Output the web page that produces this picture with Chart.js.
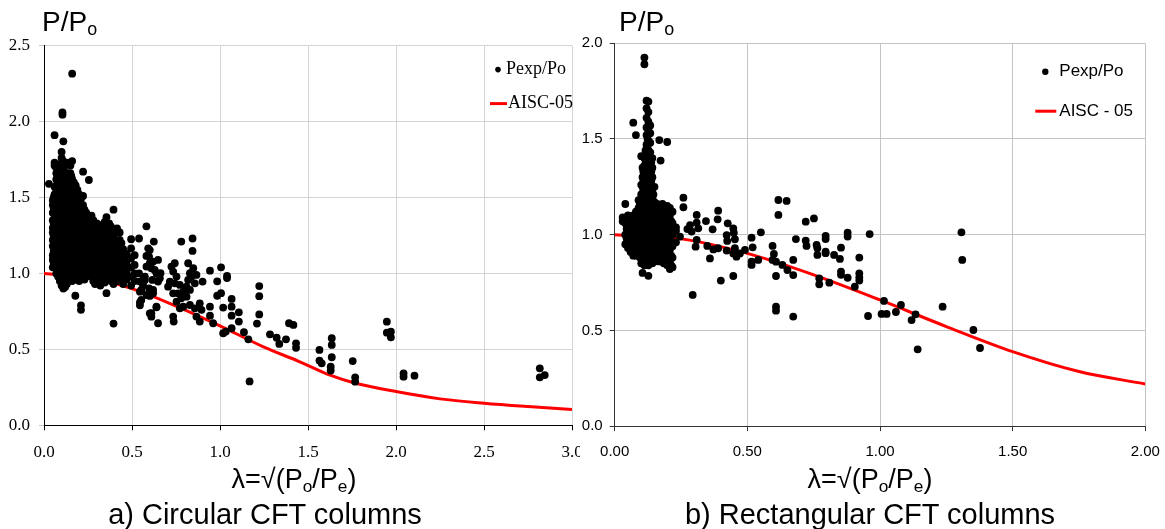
<!DOCTYPE html>
<html>
<head>
<meta charset="utf-8">
<script src="https://cdn.jsdelivr.net/npm/chart.js@4.4.1/dist/chart.umd.min.js"></script>
<style>
html, body { margin: 0; padding: 0; background: #fff; }
#wrap { position: relative; width: 1165px; height: 529px; overflow: hidden; font-family: "Liberation Sans", Arial, sans-serif; color: #000; }
canvas { position: absolute; top: 0; }
.lbl { position: absolute; white-space: nowrap; line-height: 1; }
.lbl sub { font-size: 0.64em; vertical-align: baseline; position: relative; top: 0.22em; }
</style>
</head>
<body>
<div id="wrap">
    <canvas id="circChart" width="580" height="470" style="left:0"></canvas>
    <canvas id="rectChart" width="585" height="470" style="left:580px"></canvas>

    <div class="lbl" style="left:42px; top:8px; font-size:28px">P/P<sub>o</sub></div>
    <div class="lbl" style="left:619px; top:8px; font-size:28px">P/P<sub>o</sub></div>

    <div class="lbl" style="left:194px; width:200px; text-align:center; top:466px; font-size:27px">λ=√(P<sub>o</sub>/P<sub>e</sub>)</div>
    <div class="lbl" style="left:770px; width:200px; text-align:center; top:466px; font-size:27px">λ=√(P<sub>o</sub>/P<sub>e</sub>)</div>

    <div class="lbl" style="left:65px; width:400px; text-align:center; top:500px; font-size:29px">a) Circular CFT columns</div>
    <div class="lbl" style="left:670px; width:400px; text-align:center; top:500px; font-size:29px">b) Rectangular CFT columns</div>
</div>

<script>
// --- a) circular CFT: test points, each entry is [lambda, [P/Po values at that lambda]]
const circCols = [
    [0.028, [1.59]],
    [0.05, [1.04, 1.09, 1.12, 1.18, 1.22, 1.27, 1.30, 1.35, 1.40, 1.45, 1.48]],
    [0.055, [1.07, 1.15, 1.25, 1.33, 1.43, 1.50]],
    [0.06, [1.05, 1.10, 1.15, 1.20, 1.25, 1.30, 1.36, 1.42, 1.47, 1.52, 1.57, 1.71, 1.73, 1.91]],
    [0.067, [1.70]],
    [0.07, [1.00, 1.06, 1.12, 1.17, 1.23, 1.28, 1.33, 1.39, 1.44, 1.50, 1.55, 1.62, 1.66]],
    [0.075, [1.03, 1.09, 1.15, 1.21, 1.26, 1.31, 1.36, 1.42, 1.47, 1.53, 1.59]],
    [0.08, [0.98, 1.03, 1.08, 1.14, 1.19, 1.25, 1.30, 1.36, 1.41, 1.46, 1.51, 1.57, 1.63, 1.69]],
    [0.09, [0.95, 1.00, 1.05, 1.10, 1.16, 1.21, 1.27, 1.32, 1.38, 1.43, 1.48, 1.54, 1.60, 1.66, 1.72]],
    [0.095, [0.97, 1.03, 1.08, 1.13, 1.19, 1.24, 1.30, 1.35, 1.41, 1.46, 1.51, 1.57, 1.63, 1.69]],
    [0.10, [0.92, 0.97, 1.02, 1.07, 1.13, 1.18, 1.24, 1.29, 1.35, 1.40, 1.45, 1.51, 1.57, 1.62, 1.68, 1.76, 1.80]],
    [0.105, [2.045, 2.06]],
    [0.11, [0.90, 0.95, 1.00, 1.05, 1.10, 1.15, 1.21, 1.26, 1.31, 1.37, 1.42, 1.48, 1.53, 1.59, 1.64, 1.70, 1.74, 1.87]],
    [0.115, [0.93, 0.98, 1.03, 1.08, 1.13, 1.18, 1.24, 1.29, 1.34, 1.39, 1.45, 1.50, 1.56, 1.61, 1.67]],
    [0.12, [0.91, 0.97, 1.02, 1.08, 1.13, 1.19, 1.24, 1.30, 1.35, 1.40, 1.46, 1.51, 1.56, 1.62, 1.67, 1.72]],
    [0.13, [0.93, 0.99, 1.04, 1.10, 1.16, 1.21, 1.27, 1.33, 1.38, 1.44, 1.49, 1.54, 1.60, 1.65]],
    [0.135, [0.96, 1.02, 1.07, 1.13, 1.19, 1.24, 1.30, 1.36, 1.41, 1.47, 1.52, 1.57, 1.62]],
    [0.14, [0.95, 1.00, 1.06, 1.12, 1.17, 1.23, 1.29, 1.34, 1.40, 1.46, 1.52, 1.58, 1.63, 1.73]],
    [0.15, [0.97, 1.03, 1.08, 1.14, 1.19, 1.25, 1.31, 1.36, 1.42, 1.48, 1.53, 1.59, 1.66, 1.71]],
    [0.155, [0.99, 1.05, 1.11, 1.16, 1.22, 1.28, 1.33, 1.39, 1.45, 1.50, 1.56, 1.64]],
    [0.16, [0.95, 1.01, 1.06, 1.12, 1.17, 1.23, 1.28, 1.34, 1.39, 1.45, 1.51, 1.56, 1.62, 1.74, 2.315]],
    [0.17, [0.99, 1.04, 1.10, 1.15, 1.21, 1.26, 1.32, 1.37, 1.43, 1.49, 1.54, 1.60]],
    [0.175, [0.97, 1.02, 1.07, 1.12, 1.18, 1.23, 1.29, 1.35, 1.40, 1.46, 1.51, 1.57]],
    [0.178, [0.853]],
    [0.18, [0.96, 1.02, 1.07, 1.13, 1.18, 1.24, 1.29, 1.35, 1.41, 1.46, 1.52, 1.58]],
    [0.19, [0.98, 1.04, 1.09, 1.15, 1.20, 1.26, 1.32, 1.38, 1.43, 1.49, 1.55]],
    [0.195, [1.01, 1.06, 1.12, 1.18, 1.23, 1.29, 1.35, 1.41, 1.46]],
    [0.20, [0.95, 1.00, 1.06, 1.11, 1.17, 1.22, 1.28, 1.34, 1.40, 1.46, 1.52]],
    [0.21, [0.76, 0.79, 0.97, 1.03, 1.08, 1.14, 1.19, 1.25, 1.31, 1.37, 1.43, 1.49]],
    [0.215, [1.00, 1.06, 1.11, 1.17, 1.22, 1.28, 1.34, 1.40]],
    [0.222, [0.99, 1.05, 1.10, 1.16, 1.21, 1.27, 1.33, 1.39, 1.45, 1.51, 1.67]],
    [0.23, [0.96, 1.02, 1.07, 1.13, 1.18, 1.24, 1.30, 1.36, 1.42]],
    [0.235, [1.01, 1.07, 1.12, 1.18, 1.24, 1.30, 1.36]],
    [0.24, [0.98, 1.04, 1.09, 1.15, 1.21, 1.27, 1.33, 1.40]],
    [0.255, [1.01, 1.06, 1.12, 1.18, 1.24, 1.30, 1.37, 1.615]],
    [0.27, [0.98, 1.03, 1.09, 1.15, 1.21, 1.27, 1.33, 1.38]],
    [0.28, [0.95, 1.00, 1.05, 1.11, 1.17, 1.23, 1.29, 1.35]],
    [0.29, [0.93, 0.96, 1.02, 1.08, 1.14, 1.20, 1.26, 1.31]],
    [0.30, [0.97, 1.03, 1.09, 1.15, 1.21, 1.27, 1.33]],
    [0.31, [0.95, 1.00, 1.06, 1.12, 1.18, 1.24, 1.30]],
    [0.32, [0.92, 0.98, 1.04, 1.10, 1.16, 1.22, 1.28]],
    [0.33, [0.97, 1.03, 1.09, 1.15, 1.21, 1.27, 1.32]],
    [0.345, [0.94, 0.99, 1.05, 1.11, 1.17, 1.23, 1.29, 1.34]],
    [0.355, [0.87, 0.96, 1.01, 1.07, 1.13, 1.19, 1.25, 1.31, 1.37]],
    [0.37, [0.98, 1.04, 1.10, 1.16, 1.22, 1.28, 1.33]],
    [0.38, [0.95, 1.01, 1.07, 1.13, 1.19, 1.26, 1.31]],
    [0.395, [0.67, 0.93, 1.00, 1.06, 1.12, 1.18, 1.24, 1.29, 1.42]],
    [0.405, [0.97, 1.04, 1.10, 1.16, 1.22]],
    [0.415, [0.95, 1.02, 1.08, 1.14, 1.20, 1.27, 1.297]],
    [0.43, [0.98, 1.04, 1.10, 1.16, 1.22, 1.27]],
    [0.44, [0.96, 1.02, 1.08, 1.14, 1.20]],
    [0.45, [0.93, 1.00, 1.07, 1.12, 1.16]],
    [0.46, [0.99, 1.05]],
    [0.47, [0.96, 1.02, 1.08, 1.11, 1.13]],
    [0.495, [0.92, 0.98, 1.04, 1.10, 1.165, 1.225]],
    [0.515, [0.95, 1.00, 1.056, 1.12]],
    [0.54, [1.00, 1.23]],
    [0.545, [0.79, 0.81, 0.88, 0.946]],
    [0.553, [0.825, 0.891]],
    [0.563, [0.924, 0.957]],
    [0.573, [0.957, 0.979]],
    [0.582, [0.858, 1.045, 1.115, 1.31]],
    [0.592, [1.165]],
    [0.597, [0.902, 1.111]],
    [0.601, [0.737, 0.852, 1.067, 1.154]],
    [0.61, [0.715, 0.738, 0.891, 1.034]],
    [0.616, [0.957]],
    [0.62, [0.869, 0.891, 1.078]],
    [0.624, [1.21]],
    [0.629, [1.023]],
    [0.639, [0.777, 0.781, 1.001]],
    [0.648, [0.672, 0.946, 1.089]],
    [0.658, [0.968]],
    [0.662, [1.001]],
    [0.705, [0.913]],
    [0.715, [0.946]],
    [0.724, [1.045]],
    [0.734, [0.716, 0.869, 1.012]],
    [0.737, [0.683]],
    [0.743, [0.935, 1.067]],
    [0.753, [0.814, 0.979]],
    [0.762, [0.869]],
    [0.772, [0.770, 0.924]],
    [0.78, [0.836, 1.21]],
    [0.791, [0.781, 0.880]],
    [0.81, [0.847, 0.913]],
    [0.819, [0.957, 1.067]],
    [0.829, [0.792, 0.891, 1.001]],
    [0.838, [0.979]],
    [0.844, [1.148, 1.23]],
    [0.848, [1.034]],
    [0.857, [0.770, 0.935]],
    [0.866, [0.716, 0.990]],
    [0.885, [0.683, 0.803]],
    [0.895, [0.760]],
    [0.901, [0.946]],
    [0.943, [0.722, 0.781, 1.018]],
    [0.961, [0.672]],
    [0.984, [0.853, 0.948]],
    [1.006, [0.87, 1.04]],
    [1.018, [0.606, 0.775]],
    [1.033, [0.617]],
    [1.04, [0.97, 0.983]],
    [1.066, [0.639, 0.722, 0.781, 0.832]],
    [1.107, [0.683, 0.744]],
    [1.136, [0.613]],
    [1.161, [0.566]],
    [1.168, [0.289]],
    [1.21, [0.67]],
    [1.223, [0.73, 0.85, 0.917]],
    [1.284, [0.599]],
    [1.322, [0.577]],
    [1.337, [0.536]],
    [1.375, [0.566]],
    [1.392, [0.672]],
    [1.417, [0.661]],
    [1.432, [0.51, 0.54]],
    [1.565, [0.426, 0.496]],
    [1.578, [0.408]],
    [1.629, [0.360, 0.386]],
    [1.635, [0.448, 0.529, 0.573]],
    [1.754, [0.423]],
    [1.768, [0.287, 0.316]],
    [1.948, [0.610, 0.682]],
    [1.971, [0.579, 0.616]],
    [2.043, [0.320, 0.342]],
    [2.105, [0.327]],
    [2.817, [0.316, 0.375]],
    [2.845, [0.331]]
];

// AISC-05 design curve read off panel a)
const circCurveLam = [0, 0.25, 0.5, 0.75, 1.0, 1.25, 1.45, 1.625, 1.77, 2.0, 2.25, 2.5, 2.75, 3.0];
const circCurveP   = [1.0, 0.975, 0.90, 0.785, 0.655, 0.515, 0.42, 0.33, 0.277, 0.222, 0.174, 0.145, 0.123, 0.104];

const circXTicks = [0, 0.5, 1.0, 1.5, 2.0, 2.5, 3.0];
const circXLabels = ['0.0', '0.5', '1.0', '1.5', '2.0', '2.5', '3.0'];
const circYTicks = [0, 0.5, 1.0, 1.5, 2.0, 2.5];
const circYLabels = ['0.0', '0.5', '1.0', '1.5', '2.0', '2.5'];

// --- b) rectangular CFT
const rectCols = [
    [0.03, [1.07, 1.09]],
    [0.04, [0.95, 1.00, 1.06, 1.16]],
    [0.045, [0.98, 1.03, 1.09]],
    [0.05, [0.93, 0.97, 1.02, 1.08, 1.10]],
    [0.055, [0.95, 1.00, 1.05]],
    [0.06, [0.91, 0.95, 0.99, 1.04, 1.09]],
    [0.065, [0.93, 0.97, 1.02, 1.07]],
    [0.07, [0.89, 0.93, 0.97, 1.02, 1.06, 1.10, 1.585]],
    [0.075, [0.91, 0.95, 1.00, 1.04, 1.08]],
    [0.08, [0.89, 0.94, 0.99, 1.03, 1.08, 1.12, 1.52]],
    [0.085, [0.92, 0.97, 1.01, 1.06, 1.10]],
    [0.09, [0.90, 0.95, 1.00, 1.05, 1.09, 1.14, 1.18]],
    [0.095, [0.88, 0.93, 0.98, 1.03, 1.07, 1.12, 1.16]],
    [0.10, [0.85, 0.91, 0.96, 1.01, 1.06, 1.11, 1.16, 1.21, 1.26, 1.41]],
    [0.105, [0.80, 0.88, 0.94, 0.99, 1.04, 1.10, 1.15, 1.20, 1.25, 1.30, 1.35]],
    [0.108, [0.86, 0.91, 0.97, 1.02, 1.07, 1.13, 1.18, 1.23, 1.28, 1.33]],
    [0.112, [0.84, 0.89, 0.95, 1.00, 1.05, 1.12, 1.18, 1.24, 1.30, 1.36, 1.40, 1.89, 1.925]],
    [0.116, [0.87, 0.92, 0.98, 1.03, 1.08, 1.15, 1.21, 1.27, 1.33, 1.39, 1.44]],
    [0.12, [0.86, 0.91, 0.96, 1.02, 1.07, 1.13, 1.19, 1.25, 1.31, 1.37, 1.42, 1.47, 1.52, 1.56, 1.61, 1.66, 1.70]],
    [0.124, [0.88, 0.93, 0.99, 1.04, 1.10, 1.16, 1.22, 1.28, 1.34, 1.40, 1.45, 1.50]],
    [0.127, [0.785, 0.84, 0.89, 0.94, 1.00, 1.05, 1.10, 1.16, 1.22, 1.28, 1.33, 1.38, 1.44, 1.49, 1.54, 1.59, 1.64, 1.695]],
    [0.134, [0.87, 0.92, 0.98, 1.03, 1.09, 1.15, 1.21, 1.26, 1.32, 1.37, 1.43, 1.48, 1.53, 1.57]],
    [0.138, [0.88, 0.93, 0.99, 1.04, 1.10, 1.16, 1.22, 1.28, 1.33, 1.38]],
    [0.142, [0.85, 0.90, 0.96, 1.01, 1.07, 1.13, 1.19, 1.24, 1.30, 1.35, 1.40]],
    [0.146, [0.87, 0.93, 0.98, 1.04, 1.10, 1.16, 1.21]],
    [0.15, [0.86, 0.92, 0.97, 1.03, 1.08, 1.14, 1.17, 1.25]],
    [0.155, [0.89, 0.95, 1.00, 1.06, 1.11]],
    [0.16, [0.88, 0.94, 0.99, 1.05, 1.11, 1.16]],
    [0.164, [0.87, 0.92, 0.97, 1.03, 1.09, 1.14]],
    [0.168, [0.86, 0.91, 0.96, 1.02, 1.07, 1.13, 1.494]],
    [0.173, [1.387]],
    [0.175, [0.89, 0.95, 1.01, 1.06, 1.11]],
    [0.18, [0.87, 0.93, 0.98, 1.04, 1.09, 1.16]],
    [0.185, [0.85, 0.91, 0.97, 1.02, 1.08, 1.14]],
    [0.19, [0.89, 0.94, 1.00, 1.06, 1.12]],
    [0.198, [0.84, 0.90, 0.96, 1.02, 1.08, 1.15, 1.484]],
    [0.203, [0.87, 0.93, 0.99, 1.05, 1.11]],
    [0.208, [0.82, 0.86, 0.92, 0.98, 1.04, 1.10, 1.14]],
    [0.213, [0.84, 0.89, 0.95, 1.01, 1.07]],
    [0.218, [0.83, 0.88, 0.94, 1.00, 1.06, 1.12]],
    [0.231, [0.96, 1.02, 1.038]],
    [0.246, [0.99]],
    [0.259, [1.143, 1.193]],
    [0.274, [1.029]],
    [0.284, [1.05]],
    [0.29, [1.016]],
    [0.294, [0.685]],
    [0.305, [0.937]],
    [0.309, [0.972, 1.063, 1.103]],
    [0.315, [1.033]],
    [0.344, [1.071]],
    [0.349, [0.941]],
    [0.359, [0.876]],
    [0.369, [1.028]],
    [0.372, [0.923]],
    [0.388, [1.08]],
    [0.39, [0.929, 1.125]],
    [0.40, [0.760]],
    [0.422, [0.917, 0.998]],
    [0.424, [0.967]],
    [0.426, [1.059]],
    [0.447, [0.784, 0.902, 1.033]],
    [0.449, [1.01]],
    [0.453, [0.929, 0.976]],
    [0.459, [0.885]],
    [0.472, [0.902]],
    [0.491, [0.92]],
    [0.516, [0.842, 0.859, 0.984]],
    [0.52, [0.934]],
    [0.541, [0.868]],
    [0.551, [1.012]],
    [0.595, [0.868, 0.941]],
    [0.60, [0.899]],
    [0.608, [0.603, 0.624, 0.784, 0.859]],
    [0.617, [1.103, 1.181]],
    [0.632, [0.842]],
    [0.648, [1.176]],
    [0.651, [0.815]],
    [0.673, [0.572, 0.789, 0.868]],
    [0.683, [0.977]],
    [0.72, [0.969, 1.068]],
    [0.723, [0.941]],
    [0.751, [1.085]],
    [0.761, [0.946]],
    [0.764, [0.894, 0.929]],
    [0.771, [0.741, 0.772]],
    [0.795, [0.903, 0.911, 0.977, 0.993]],
    [0.809, [0.749]],
    [0.827, [0.894]],
    [0.849, [0.873]],
    [0.853, [0.79, 0.807, 0.932]],
    [0.878, [0.775, 0.99, 1.01]],
    [0.905, [0.728]],
    [0.922, [0.76, 0.777, 0.798, 0.88]],
    [0.955, [0.575]],
    [0.961, [1.003]],
    [1.006, [0.586]],
    [1.015, [0.654]],
    [1.025, [0.586]],
    [1.06, [0.596]],
    [1.079, [0.633]],
    [1.119, [0.554]],
    [1.134, [0.584]],
    [1.142, [0.401]],
    [1.236, [0.624]],
    [1.307, [1.012]],
    [1.31, [0.868]],
    [1.352, [0.502]],
    [1.377, [0.408]]
];

const rectCurveLam = [0, 0.25, 0.5, 0.75, 1.0, 1.25, 1.5, 1.75, 2.0];
const rectCurveP   = [1.0, 0.978, 0.902, 0.79, 0.659, 0.52, 0.389, 0.285, 0.22];

const rectXTicks = [0, 0.5, 1.0, 1.5, 2.0];
const rectXLabels = ['0.00', '0.50', '1.00', '1.50', '2.00'];
const rectYTicks = [0, 0.5, 1.0, 1.5, 2.0];
const rectYLabels = ['0.0', '0.5', '1.0', '1.5', '2.0'];

// flatten [lambda, [values]] into scatter points
function toPoints(cols) {
    const pts = [];
    cols.forEach(([lam, vals]) => {
        vals.forEach(v => pts.push({ x: lam, y: v }));
    });
    return pts;
}

function toLine(xs, ys) {
    return xs.map((x, i) => ({ x: x, y: ys[i] }));
}

// legend drawn inside the plot, top right
const innerLegend = {
    id: 'innerLegend',
    afterDraw(chart, args, o) {
        const ctx = chart.ctx;
        const a = chart.chartArea;
        const dots = chart.data.datasets[0];
        const line = chart.data.datasets[1];
        ctx.save();
        ctx.font = o.font;
        ctx.fillStyle = '#000';
        ctx.textBaseline = 'middle';
        ctx.textAlign = 'left';

        ctx.beginPath();
        ctx.arc(a.right + o.dotX, a.top + o.row1, o.dotR, 0, Math.PI * 2);
        ctx.fill();
        ctx.fillText(dots.label, a.right + o.textX, a.top + o.row1);

        ctx.strokeStyle = line.borderColor;
        ctx.lineWidth = 3;
        ctx.beginPath();
        ctx.moveTo(a.right + o.lineX0, a.top + o.row2);
        ctx.lineTo(a.right + o.lineX1, a.top + o.row2);
        ctx.stroke();
        ctx.fillText(line.label, a.right + o.textX2, a.top + o.row2);
        ctx.restore();
    }
};

function makeChart(id, cfg) {
    const ctx = document.getElementById(id).getContext('2d');
    return new Chart(ctx, {
        type: 'scatter',
        data: {
            datasets: [
                {
                    label: 'Pexp/Po',
                    data: toPoints(cfg.cols),
                    backgroundColor: '#000',
                    borderColor: '#000',
                    borderWidth: 0,
                    pointRadius: 3.9,
                    order: 0
                },
                {
                    type: 'line',
                    label: cfg.curveLabel,
                    data: toLine(cfg.curveX, cfg.curveY),
                    borderColor: '#ff0000',
                    borderWidth: 3,
                    pointRadius: 0,
                    fill: false,
                    cubicInterpolationMode: 'monotone',
                    order: 1
                }
            ]
        },
        options: {
            responsive: false,
            animation: false,
            devicePixelRatio: 1,
            layout: { padding: { top: cfg.padTop, right: cfg.padRight, left: 0, bottom: 0 } },
            scales: {
                x: {
                    type: 'linear',
                    min: cfg.xTicks[0],
                    max: cfg.xTicks[cfg.xTicks.length - 1],
                    afterBuildTicks: s => { s.ticks = cfg.xTicks.map(v => ({ value: v })); },
                    ticks: {
                        autoSkip: false,
                        maxRotation: 0,
                        padding: cfg.xPad,
                        color: '#000',
                        font: { family: cfg.tickFont, size: cfg.tickSize },
                        callback: (v, i) => cfg.xLabels[i]
                    },
                    grid: { color: cfg.gridColor, tickColor: cfg.axisColor, tickLength: 5 },
                    border: { color: cfg.axisColor, width: 1 },
                    afterFit: s => { s.height = cfg.xHeight; s.paddingLeft = 0; s.paddingRight = 0; }
                },
                y: {
                    type: 'linear',
                    min: cfg.yTicks[0],
                    max: cfg.yTicks[cfg.yTicks.length - 1],
                    afterBuildTicks: s => { s.ticks = cfg.yTicks.map(v => ({ value: v })); },
                    ticks: {
                        autoSkip: false,
                        padding: cfg.yPad,
                        color: '#000',
                        font: { family: cfg.tickFont, size: cfg.tickSize },
                        callback: (v, i) => cfg.yLabels[i]
                    },
                    grid: { color: cfg.gridColor, tickColor: cfg.yTickColor, tickLength: 5 },
                    border: { color: cfg.axisColor, width: 1 },
                    afterFit: s => { s.width = cfg.yWidth; s.paddingTop = 0; s.paddingBottom = 0; }
                }
            },
            plugins: {
                legend: { display: false },
                tooltip: { enabled: false },
                innerLegend: cfg.legend
            }
        },
        plugins: [innerLegend]
    });
}

makeChart('circChart', {
    cols: circCols,
    curveLabel: 'AISC-05',
    curveX: circCurveLam,
    curveY: circCurveP,
    xTicks: circXTicks, xLabels: circXLabels,
    yTicks: circYTicks, yLabels: circYLabels,
    tickFont: '"Liberation Serif", "Times New Roman", serif',
    tickSize: 17,
    gridColor: '#d4d4d4',
    axisColor: '#000',
    yTickColor: '#c8c8c8',
    padTop: 45.6, padRight: 8,
    xHeight: 44.7, yWidth: 44,
    xPad: 12, yPad: 9,
    legend: {
        font: '18px "Liberation Serif", "Times New Roman", serif',
        dotX: -74, dotR: 2.8, row1: 24, textX: -66,
        lineX0: -82, lineX1: -65, row2: 58, textX2: -64
    }
});

makeChart('rectChart', {
    cols: rectCols,
    curveLabel: 'AISC - 05',
    curveX: rectCurveLam,
    curveY: rectCurveP,
    xTicks: rectXTicks, xLabels: rectXLabels,
    yTicks: rectYTicks, yLabels: rectYLabels,
    tickFont: '"Liberation Sans", Arial, sans-serif',
    tickSize: 15,
    gridColor: '#c4c4c4',
    axisColor: '#333',
    yTickColor: '#333',
    padTop: 43.2, padRight: 19.7,
    xHeight: 43.9, yWidth: 34.7,
    xPad: 12, yPad: 7,
    legend: {
        font: '17px "Liberation Sans", Arial, sans-serif',
        dotX: -100, dotR: 3.2, row1: 28.5, textX: -86,
        lineX0: -110, lineX1: -89, row2: 68, textX2: -86
    }
});
</script>
</body>
</html>
